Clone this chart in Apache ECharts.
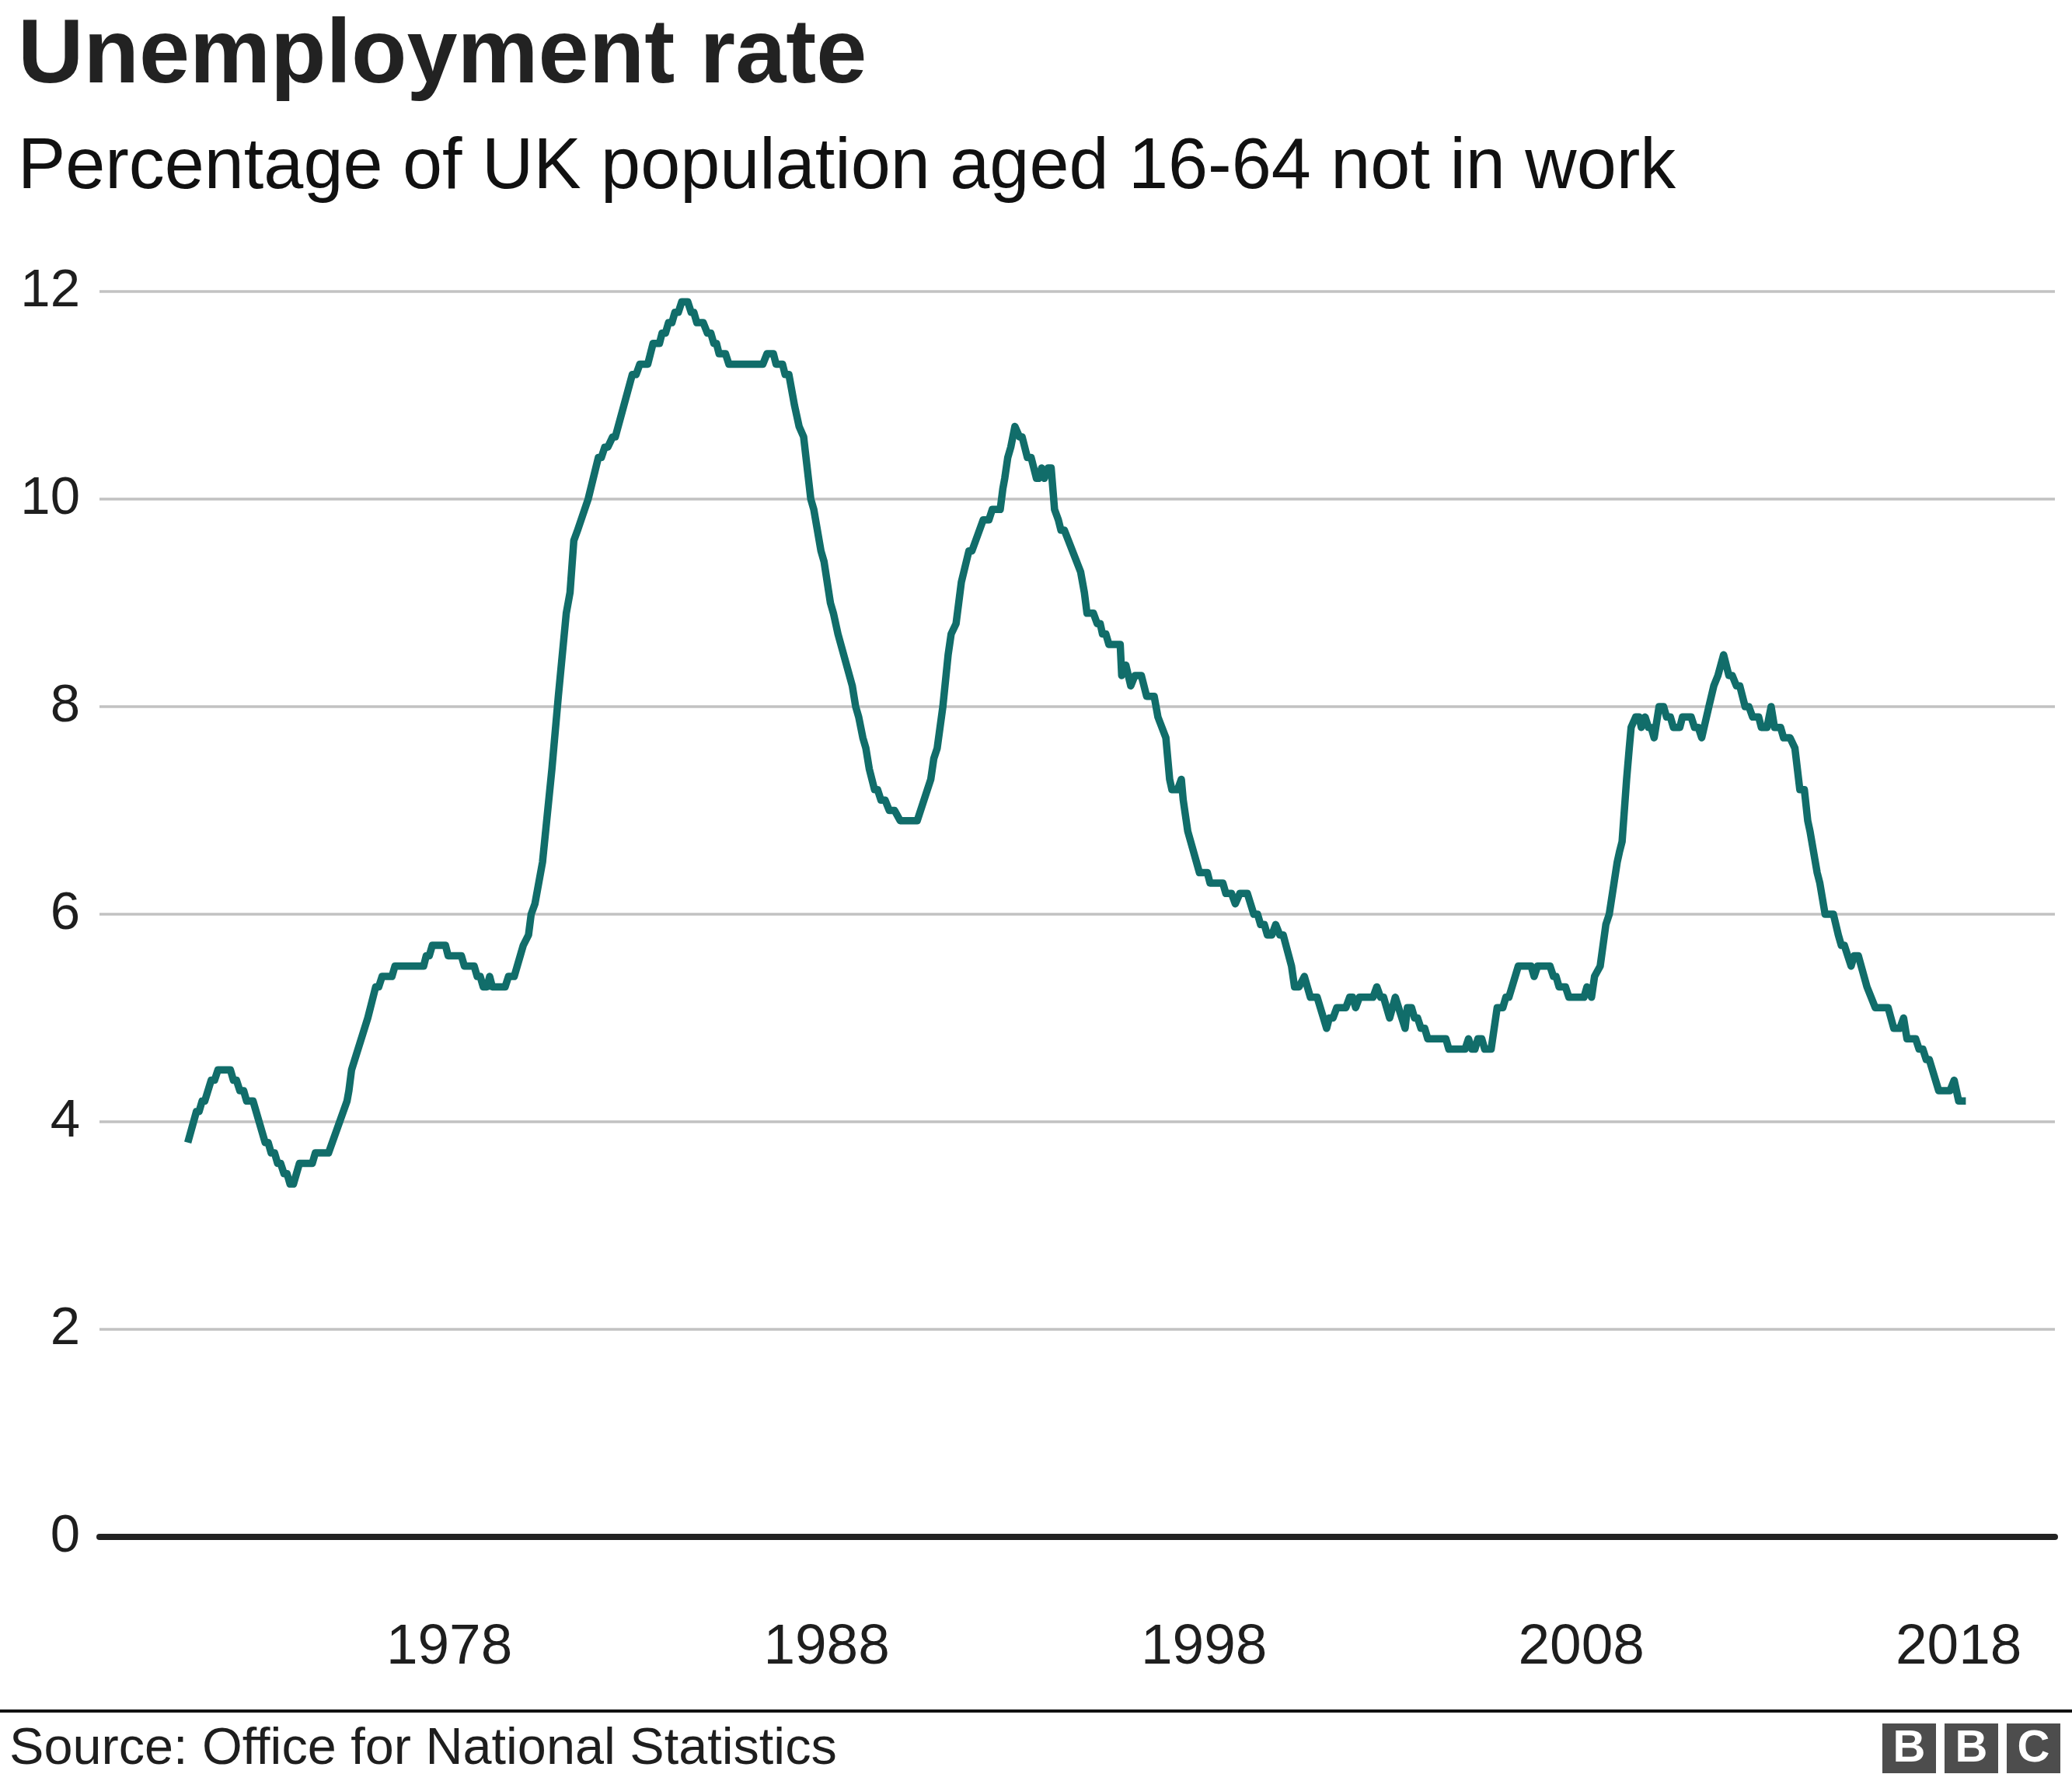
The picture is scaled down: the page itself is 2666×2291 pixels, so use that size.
<!DOCTYPE html>
<html>
<head>
<meta charset="utf-8">
<script src="https://cdn.jsdelivr.net/npm/echarts@6/dist/echarts.min.js"></script>
<style>
html,body{margin:0;padding:0;background:#fff;}
#chart{width:2666px;height:2291px;}
</style>
</head>
<body>
<div id="chart"></div>
<script>
const titleText = 'Unemployment rate';
const subtitleText = 'Percentage of UK population aged 16-64 not in work';
const sourceText = 'Source: Office for National Statistics';
const xTickYears = [1978, 1988, 1998, 2008, 2018];
const yTicks = [0, 2, 4, 6, 8, 10, 12];

const years = [
1971.07,1971.30,1971.37,1971.45,1971.52,1971.69,1971.78,1971.87,1972.20,1972.28,1972.36,1972.45,1972.55,1972.63,1972.80,
1973.12,1973.20,1973.28,1973.37,1973.45,1973.53,1973.62,1973.70,1973.78,1973.87,1974.03,1974.37,1974.45,1974.80,
1975.29,1975.34,1975.41,1975.84,1976.05,1976.13,1976.22,1976.48,1976.56,1977.32,1977.39,1977.47,1977.55,1977.90,1977.97,
1978.32,1978.40,1978.66,1978.74,1978.82,1978.90,1979.00,1979.07,1979.14,1979.48,1979.57,1979.72,1979.96,
1980.10,1980.17,1980.27,1980.47,1980.72,1980.89,1981.10,1981.20,1981.30,1981.40,1981.68,1981.95,
1982.03,1982.12,1982.20,1982.33,1982.40,1982.85,1982.95,1983.05,1983.26,1983.40,1983.57,1983.64,1983.73,1983.81,1983.90,1983.98,
1984.07,1984.16,1984.32,1984.41,1984.48,1984.56,1984.73,1984.84,1984.93,1985.01,1985.08,1985.15,1985.32,1985.41,
1986.31,1986.42,1986.59,1986.66,1986.83,1986.90,1987.00,1987.15,1987.27,1987.39,1987.58,1987.66,1987.85,1987.93,
1988.10,1988.18,1988.30,1988.68,1988.77,1988.85,1988.96,1989.04,1989.13,1989.27,1989.35,1989.44,1989.55,1989.66,1989.80,1989.95,
1990.40,1990.67,1990.76,1990.84,1990.93,1991.08,1991.22,1991.30,1991.43,1991.57,1991.77,1991.85,
1992.15,1992.30,1992.39,1992.60,1992.67,1992.72,1992.80,1992.88,1992.99,1993.03,1993.11,1993.18,1993.32,1993.42,1993.56,1993.62,1993.70,1993.77,1993.87,1993.95,
1994.04,1994.14,1994.21,1994.30,1994.73,1994.83,1994.90,1995.07,1995.17,1995.25,1995.31,1995.40,1995.48,1995.78,1995.82,1995.93,
1996.06,1996.17,1996.34,1996.48,1996.68,1996.78,1996.99,1997.09,1997.15,1997.30,1997.40,1997.45,1997.57,1997.88,
1998.09,1998.16,1998.50,1998.58,1998.73,1998.83,1998.95,1999.15,1999.32,1999.42,1999.50,1999.60,1999.68,1999.80,1999.90,
2000.01,2000.10,2000.32,2000.40,2000.52,2000.66,2000.82,2001.00,2001.25,2001.32,2001.42,2001.52,2001.76,2001.86,2001.94,
2002.02,2002.12,2002.48,2002.58,2002.68,2002.76,2002.92,2003.07,2003.33,2003.39,2003.50,2003.58,2003.66,2003.75,2003.85,2003.93,
2004.41,2004.49,2004.92,2005.01,2005.10,2005.18,2005.26,2005.36,2005.44,2005.61,2005.77,2005.92,
2006.00,2006.08,2006.33,2006.67,2006.75,2006.84,2007.17,2007.26,2007.33,2007.41,2007.58,2007.67,
2008.07,2008.15,2008.27,2008.35,2008.50,2008.65,2008.74,2008.95,2009.01,2009.08,2009.20,2009.27,2009.32,2009.44,2009.53,2009.59,2009.69,2009.78,2009.85,2009.93,
2010.06,2010.18,2010.26,2010.36,2010.44,2010.61,2010.68,2010.91,2011.00,2011.10,2011.19,2011.38,2011.51,2011.62,2011.77,2011.91,
2012.00,2012.11,2012.20,2012.34,2012.44,2012.54,2012.70,2012.77,2012.92,2013.03,2013.12,2013.28,2013.36,2013.53,2013.66,2013.79,2013.91,
2014.00,2014.06,2014.25,2014.32,2014.46,2014.68,2014.81,2014.89,2014.97,2015.15,2015.23,2015.34,2015.57,2015.79,
2016.13,2016.28,2016.44,2016.54,2016.63,2016.86,2016.95,2017.05,2017.14,2017.22,2017.47,2017.77,2017.88,2018.00,2018.19
];

const rates = [
3.8,4.1,4.1,4.2,4.2,4.4,4.4,4.5,4.5,4.4,4.4,4.3,4.3,4.2,4.2,
3.8,3.8,3.7,3.7,3.6,3.6,3.5,3.5,3.4,3.4,3.6,3.6,3.7,3.7,
4.2,4.3,4.5,5.0,5.3,5.3,5.4,5.4,5.5,5.5,5.6,5.6,5.7,5.7,5.6,
5.6,5.5,5.5,5.4,5.4,5.3,5.3,5.4,5.3,5.3,5.4,5.4,5.7,
5.8,6.0,6.1,6.5,7.4,8.1,8.9,9.1,9.6,9.7,10.0,10.4,
10.4,10.5,10.5,10.6,10.6,11.2,11.2,11.3,11.3,11.5,11.5,11.6,11.6,11.7,11.7,11.8,
11.8,11.9,11.9,11.8,11.8,11.7,11.7,11.6,11.6,11.5,11.5,11.4,11.4,11.3,
11.3,11.4,11.4,11.3,11.3,11.2,11.2,10.9,10.7,10.6,10.0,9.9,9.5,9.4,
9.0,8.9,8.7,8.2,8.0,7.9,7.7,7.6,7.4,7.2,7.2,7.1,7.1,7.0,7.0,6.9,
6.9,7.2,7.3,7.5,7.6,8.0,8.5,8.7,8.8,9.2,9.5,9.5,
9.8,9.8,9.9,9.9,10.1,10.2,10.4,10.5,10.7,10.7,10.6,10.6,10.4,10.4,10.2,10.2,10.3,10.2,10.3,10.3,
9.9,9.8,9.7,9.7,9.3,9.1,8.9,8.9,8.8,8.8,8.7,8.7,8.6,8.6,8.3,8.4,
8.2,8.3,8.3,8.1,8.1,7.9,7.7,7.3,7.2,7.2,7.3,7.1,6.8,6.4,
6.4,6.3,6.3,6.2,6.2,6.1,6.2,6.2,6.0,6.0,5.9,5.9,5.8,5.8,5.9,
5.8,5.8,5.5,5.3,5.3,5.4,5.2,5.2,4.9,5.0,5.0,5.1,5.1,5.2,5.2,
5.1,5.2,5.2,5.3,5.2,5.2,5.0,5.2,4.9,5.1,5.1,5.0,5.0,4.9,4.9,4.8,
4.8,4.7,4.7,4.8,4.7,4.7,4.8,4.8,4.7,4.7,5.1,5.1,
5.2,5.2,5.5,5.5,5.4,5.5,5.5,5.4,5.4,5.3,5.3,5.2,
5.2,5.3,5.2,5.4,5.5,5.9,6.0,6.5,6.6,6.7,7.3,7.6,7.8,7.9,7.9,7.8,7.9,7.8,7.8,7.7,
8.0,8.0,7.9,7.9,7.8,7.8,7.9,7.9,7.8,7.8,7.7,8.0,8.2,8.3,8.5,8.3,
8.3,8.2,8.2,8.0,8.0,7.9,7.9,7.8,7.8,8.0,7.8,7.8,7.7,7.7,7.6,7.2,7.2,
6.9,6.8,6.4,6.3,6.0,6.0,5.8,5.7,5.7,5.5,5.6,5.6,5.3,5.1,
5.1,4.9,4.9,5.0,4.8,4.8,4.7,4.7,4.6,4.6,4.3,4.3,4.4,4.2,4.2
];

const seriesData = years.map((y, i) => [y, rates[i]]);
const FONT = '"Liberation Sans", Arial, Helvetica, sans-serif';

const chart = echarts.init(document.getElementById('chart'), null, {renderer: 'canvas'});
chart.setOption({
  animation: false,
  backgroundColor: '#ffffff',
  grid: {left: 128, right: 22, top: 375, bottom: 314, containLabel: false},
  xAxis: {
    type: 'value',
    min: 1968.73,
    max: 2020.55,
    axisLine: {show: true, onZero: false, lineStyle: {color: '#222222', width: 8}},
    axisTick: {show: false},
    splitLine: {show: false},
    axisLabel: {
      customValues: xTickYears,
      margin: 106,
      fontFamily: FONT,
      fontSize: 73,
      color: '#1e1e1e',
      formatter: v => String(Math.round(v))
    }
  },
  yAxis: {
    type: 'value',
    min: yTicks[0],
    max: yTicks[yTicks.length - 1],
    interval: 2,
    axisLine: {show: false},
    axisTick: {show: false},
    splitLine: {show: true, lineStyle: {color: '#c2c2c2', width: 3.5}},
    axisLabel: {
      margin: 25,
      fontFamily: FONT,
      fontSize: 69,
      color: '#1e1e1e'
    }
  },
  series: [{
    type: 'line',
    data: seriesData,
    showSymbol: false,
    symbol: 'none',
    silent: true,
    z: 3,
    lineStyle: {color: '#116d6a', width: 9.5, cap: 'butt', join: 'round'}
  }],
  graphic: [
    {type: 'text', left: 23, top: 15, style: {text: titleText, font: 'bold 117px ' + FONT, fill: '#222222'}},
    {type: 'text', left: 23, top: 171, style: {text: subtitleText, font: '91.8px ' + FONT, fill: '#111111'}},
    {type: 'rect', shape: {x: 0, y: 2199, width: 2666, height: 4}, style: {fill: '#111111'}},
    {type: 'text', left: 12, top: 2217, style: {text: sourceText, font: '66.6px ' + FONT, fill: '#1e1e1e'}},
    {type: 'group', left: 2422, top: 2217, children: [
      {type: 'rect', shape: {x: 0, y: 0, width: 69, height: 64}, style: {fill: '#4d4d4d'}},
      {type: 'rect', shape: {x: 80, y: 0, width: 69, height: 64}, style: {fill: '#4d4d4d'}},
      {type: 'rect', shape: {x: 160, y: 0, width: 69, height: 64}, style: {fill: '#4d4d4d'}},
      {type: 'text', x: 34.5, y: 33, style: {text: 'B', font: 'bold 58px ' + FONT, fill: '#ffffff', align: 'center', verticalAlign: 'middle'}},
      {type: 'text', x: 114.5, y: 33, style: {text: 'B', font: 'bold 58px ' + FONT, fill: '#ffffff', align: 'center', verticalAlign: 'middle'}},
      {type: 'text', x: 194.5, y: 33, style: {text: 'C', font: 'bold 58px ' + FONT, fill: '#ffffff', align: 'center', verticalAlign: 'middle'}}
    ]}
  ]
});
</script>
</body>
</html>
